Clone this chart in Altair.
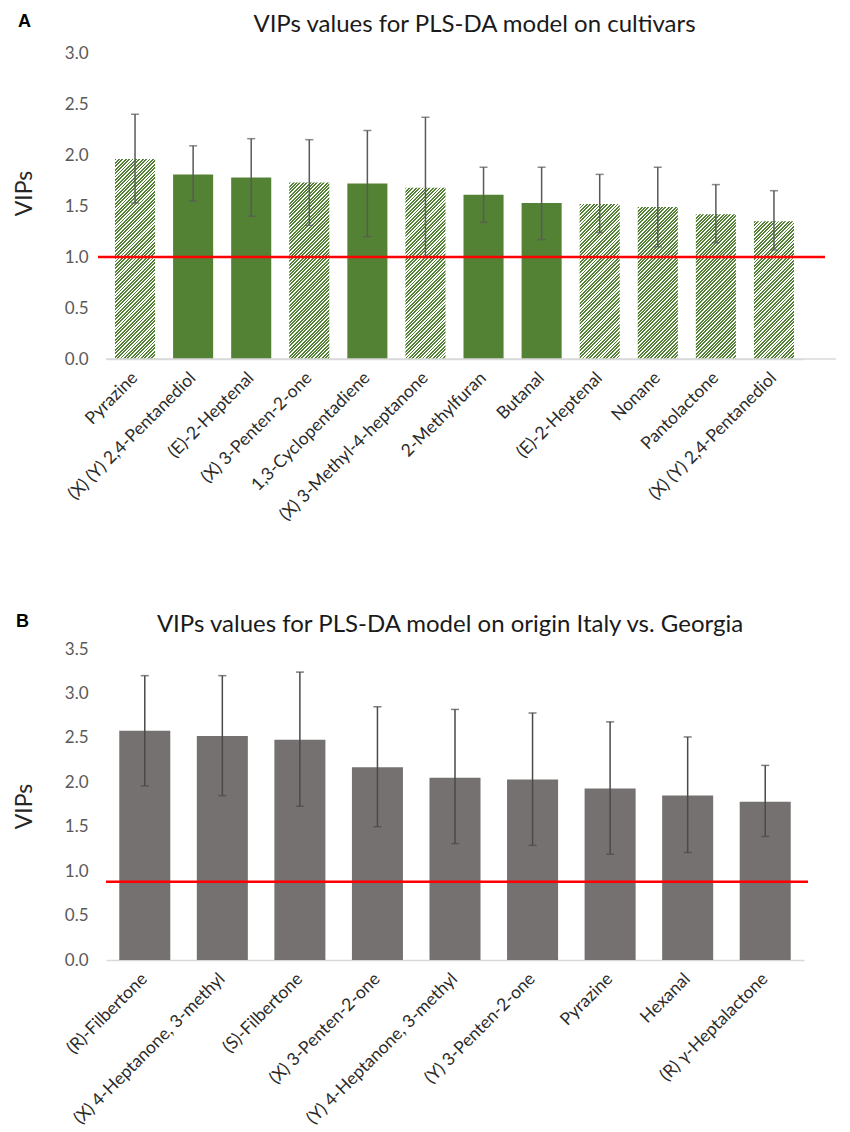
import json
import altair as alt
import pandas as pd

# ---------------- data ----------------
names_a = ["Pyrazine", "(X) (Y) 2,4-Pentanediol", "(E)-2-Heptenal", "(X) 3-Penten-2-one",
           "1,3-Cyclopentadiene", "(X) 3-Methyl-4-heptanone", "2-Methylfuran", "Butanal",
           "(E)-2-Heptenal", "Nonane", "Pantolactone", "(X) (Y) 2,4-Pentanediol"]
vip_a = [1.96, 1.81, 1.78, 1.73, 1.72, 1.68, 1.61, 1.53, 1.52, 1.49, 1.42, 1.35]
lo_a = [1.53, 1.55, 1.40, 1.31, 1.20, 1.00, 1.34, 1.17, 1.24, 1.10, 1.14, 1.07]
hi_a = [2.40, 2.09, 2.16, 2.15, 2.24, 2.37, 1.88, 1.88, 1.81, 1.88, 1.71, 1.65]
hatched_a = [True, False, False, True, False, True, False, False, True, True, True, True]
threshold_a = 1.0
ticks_a = [0.0, 0.5, 1.0, 1.5, 2.0, 2.5, 3.0]
title_a = "VIPs values for PLS-DA model on cultivars"

names_b = ["(R)-Filbertone", "(X) 4-Heptanone, 3-methyl", "(S)-Filbertone", "(X) 3-Penten-2-one",
           "(Y) 4-Heptanone, 3-methyl", "(Y) 3-Penten-2-one", "Pyrazine", "Hexanal",
           "(R) γ-Heptalactone"]
vip_b = [2.58, 2.52, 2.48, 2.17, 2.05, 2.03, 1.93, 1.85, 1.78]
lo_b = [1.96, 1.85, 1.73, 1.50, 1.31, 1.29, 1.19, 1.21, 1.39]
hi_b = [3.20, 3.20, 3.24, 2.85, 2.82, 2.78, 2.68, 2.51, 2.19]
threshold_b = 0.88
ticks_b = [0.0, 0.5, 1.0, 1.5, 2.0, 2.5, 3.0, 3.5]
title_b = "VIPs values for PLS-DA model on origin Italy vs. Georgia"

# ---------------- style ----------------
GREEN = "#548235"
GREY_BAR = "#767171"
ERR_A = "#595959"
ERR_B = "#4a4a4a"
RED = "#ff0000"
FONT = "Lato"

W_A, H_A, PAD_A = 697, 306, 0.31
W_B, H_B, PAD_B = 698, 311, 0.342


def hatch_fill(w, h, period=3.4, color=GREEN):
    """Diagonal '/' stripes as a hard-stop linear gradient (bbox units)."""
    L = w + h
    stops = []
    k = 0
    while k * period < L:
        t0 = k * period / L
        t1 = min((k * period + period * 0.55) / L, 1.0)
        t2 = min((k + 1) * period / L, 1.0)
        stops += [{"offset": round(t0, 5), "color": color},
                  {"offset": round(t1, 5), "color": color},
                  {"offset": round(t1, 5), "color": "#ffffff"},
                  {"offset": round(t2, 5), "color": "#ffffff"}]
        k += 1
    d = w * w + h * h
    return {"gradient": "linear", "x1": 0, "y1": 0,
            "x2": round(L * w / d, 6), "y2": round(L * h / d, 6), "stops": stops}


def make_panel(names, vip, lo, hi, threshold, ticks, title, letter, width, height,
               pad, ymax, bar_color, err_color, hatched=None, red_x=(0, 0),
               base_ext=None, title_dx=0, title_y=-40, letter_pos=(-88, -39),
               vips_y=None):
    n = len(names)
    df = pd.DataFrame({"idx": list(range(n)), "vip": vip, "lo": lo, "hi": hi,
                       "hatched": hatched if hatched else [False] * n})
    label_expr = json.dumps(names, ensure_ascii=False) + "[datum.value]"
    x_enc = alt.X("idx:O",
                  scale=alt.Scale(domain=list(range(n)), paddingInner=pad,
                                  paddingOuter=pad / 2),
                  axis=alt.Axis(title=None, labelExpr=label_expr, labelAngle=-45,
                                labelAlign="right", labelBaseline="middle",
                                labelPadding=16, labelFontSize=17.5, labelFont=FONT,
                                labelColor="#2b2b2b", labelOverlap=False,
                                labelLimit=400, ticks=False, domainColor="#d9d9d9",
                                domainWidth=1.5, grid=False))
    yscale = alt.Scale(domain=[0, ymax], nice=False, zero=True)
    yaxis = alt.Axis(title="VIPs", values=ticks, format=".1f", grid=False,
                     domain=False, ticks=False, labelFontSize=17, labelFont=FONT,
                     labelColor="#595959", labelPadding=18, titleFont=FONT,
                     titleFontSize=23, titleFontWeight="normal", titleColor="#262626",
                     titleAngle=270, titleX=-70,
                     titleY=vips_y if vips_y is not None else height / 2,
                     titleBaseline="bottom", titleAlign="center")

    def Y(field):
        return alt.Y(field, scale=yscale, axis=yaxis)

    base = alt.Chart(df)
    layers = []
    if hatched:
        layers.append(base.transform_filter("!datum.hatched")
                      .mark_bar(color=bar_color).encode(x=x_enc, y=Y("vip:Q")))
        bw = width / n * (1 - pad)
        for i, flag in enumerate(hatched):
            if flag:
                hpx = vip[i] / ymax * height
                layers.append(base.transform_filter(f"datum.idx == {i}")
                              .mark_bar(fill=hatch_fill(bw, hpx))
                              .encode(x=x_enc, y=Y("vip:Q")))
    else:
        layers.append(base.mark_bar(color=bar_color).encode(x=x_enc, y=Y("vip:Q")))

    layers.append(base.mark_rule(color=err_color, strokeWidth=1.5)
                  .encode(x=x_enc, y=Y("lo:Q"), y2="hi:Q"))
    layers.append(base.mark_tick(color=err_color, size=8, thickness=1.5)
                  .encode(x=x_enc, y=Y("hi:Q")))
    layers.append(base.mark_tick(color=err_color, size=8, thickness=1.5)
                  .encode(x=x_enc, y=Y("lo:Q")))
    if base_ext:
        layers.append(alt.Chart(pd.DataFrame({"v": [0.0]}))
                      .mark_rule(color="#d9d9d9", strokeWidth=1.5)
                      .encode(y=Y("v:Q"), x=alt.value(0), x2=alt.value(base_ext)))
    layers.append(alt.Chart(pd.DataFrame({"thr": [threshold]}))
                  .mark_rule(color=RED, strokeWidth=2.6)
                  .encode(y=Y("thr:Q"), x=alt.value(red_x[0]), x2=alt.value(red_x[1])))
    layers.append(alt.Chart(pd.DataFrame({"t": [title]}))
                  .mark_text(font=FONT, fontSize=24, align="center",
                             baseline="top", color="#1a1a1a")
                  .encode(text="t:N", x=alt.value(width / 2 + title_dx),
                          y=alt.value(title_y)))
    layers.append(alt.Chart(pd.DataFrame({"t": [letter]}))
                  .mark_text(font="Liberation Sans", fontSize=18, fontWeight="bold",
                             align="left", baseline="top", color="#000000")
                  .encode(text="t:N", x=alt.value(letter_pos[0]),
                          y=alt.value(letter_pos[1])))
    return alt.layer(*layers).properties(width=width, height=height)


panel_a = make_panel(names_a, vip_a, lo_a, hi_a, threshold_a, ticks_a, title_a, "A",
                     W_A, H_A, PAD_A, 3.0, GREEN, ERR_A, hatched=hatched_a,
                     red_x=(-8, 719), base_ext=730, title_dx=20, title_y=-40,
                     letter_pos=(-88, -40), vips_y=140)
panel_b = make_panel(names_b, vip_b, lo_b, hi_b, threshold_b, ticks_b, title_b, "B",
                     W_B, H_B, PAD_B, 3.5, GREY_BAR, ERR_B, hatched=None,
                     red_x=(0, 702), title_dx=-5, title_y=-36,
                     letter_pos=(-90, -36), vips_y=157)

chart = (alt.vconcat(panel_a, panel_b, spacing=290, bounds="flush",
                     padding={"left": 5, "top": 5, "right": 0, "bottom": 0})
         .configure_view(stroke=None))

chart.save("out.html", embed_options={"renderer": "svg", "actions": False})
